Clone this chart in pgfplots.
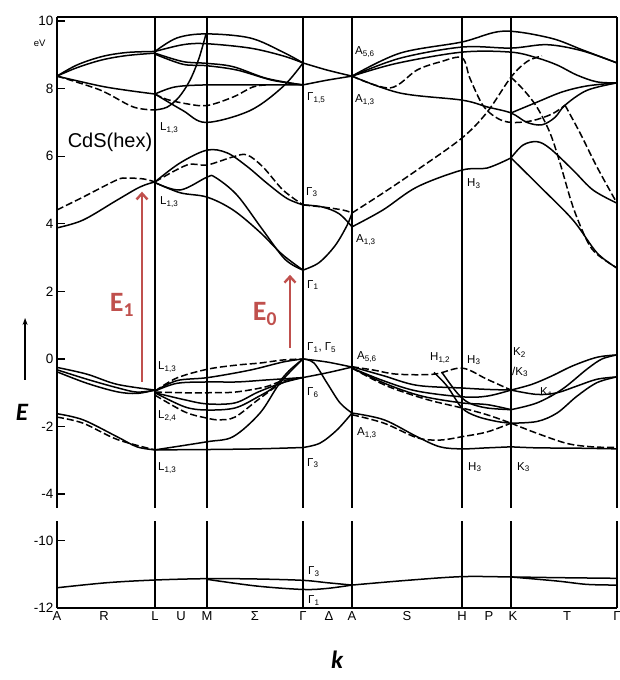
\documentclass[border=0pt]{standalone}
\usepackage{fontspec}
\setmainfont{Liberation Sans}
\newfontfamily\calfont{Carlito}
\usepackage{pgfplots}
\pgfplotsset{compat=1.18}
\usetikzlibrary{arrows.meta}
\definecolor{redarrow}{RGB}{192,80,77}
\tikzset{lab/.style={font=\fontsize{11.5}{13}\selectfont, anchor=west, inner sep=0pt}}
\pgfplotsset{
 band/.style={black, line width=1.5pt, smooth, tension=0.55, mark=none},
 bandd/.style={band, dash pattern=on 7pt off 3pt},
 panel/.style={scale only axis, width=560pt, xmin=0, xmax=560,
   axis line style={line width=1.5pt, black},
   xtick={0,98,150,246,295,405,454,560}, xticklabels={},
   xmajorgrids, grid style={black, line width=1.4pt},
   every x tick/.style={draw=none},
   every y tick/.style={black, line width=1.3pt},
   major tick length=8pt, tick align=inside,
   yticklabel style={font=\fontsize{13.5}{15}\selectfont},
   xticklabel style={font=\fontsize{13}{15}\selectfont},
   clip=false},
}
\begin{document}
\begin{tikzpicture}
\path[use as bounding box] (0pt,0pt) rectangle (620pt,680pt);
% ---------------- upper panel ----------------
\begin{axis}[panel, at={(57pt,172pt)}, anchor=south west, height=491pt,
  ymin=-4.41, ymax=10.12, axis x line*=top, axis y line*=left,
  ytick={-4,-2,0,2,4,6,8,10}, yticklabels={-4,-2,0,2,4,6,8,10}]
% upper conduction, A-L
\addplot[band] coordinates {(0,8.37)(20,8.7)(45,8.95)(70,9.07)(98,9.1)};
\addplot[band] coordinates {(0,8.37)(20,8.62)(45,8.85)(70,8.98)(98,9.05)};
\addplot[band] coordinates {(0,8.37)(43,8.08)(70,7.95)(98,7.84)};
\addplot[bandd] coordinates {(0,8.37)(43,7.96)(76,7.46)(98,7.37)};
% upper conduction, L-M-Gamma
\addplot[band] coordinates {(98,9.1)(120,9.5)(149,9.62)(193,9.5)(226,9.08)(246,8.76)};
\addplot[band] coordinates {(98,9.1)(126,9.3)(149,9.33)(193,9.2)(226,8.97)(246,8.76)};
\addplot[band] coordinates {(98,9.05)(126,8.8)(149,8.75)(176,8.65)(210,8.3)(246,8.11)};
\addplot[band] coordinates {(98,9.02)(126,8.72)(149,8.68)(180,8.55)(215,8.25)(246,8.11)};
\addplot[band] coordinates {(98,7.84)(118,8.05)(149,8.11)(200,8.11)(246,8.11)};
\addplot[band] coordinates {(98,7.37)(110,7.45)(122,7.75)(133,8.25)(142,8.9)(149,9.62)};
\addplot[band] coordinates {(98,7.84)(126,7.35)(149,7.0)(193,7.35)(226,8.06)(246,8.76)};
\addplot[bandd] coordinates {(98,7.84)(110,7.68)(130,7.55)(150,7.5)(176,7.75)(196,8.05)(210,8.11)};
% upper conduction, Gamma-A
\addplot[band] coordinates {(246,8.76)(270,8.55)(295,8.37)};
\addplot[band] coordinates {(246,8.11)(270,8.25)(295,8.37)};
% upper conduction, A-H-K-Gamma
\addplot[band] coordinates {(295,8.37)(343,9.05)(405,9.38)(446,9.7)(493,9.5)(526,9.14)(560,8.76)};
\addplot[band] coordinates {(295,8.37)(343,8.9)(405,9.23)(454,9.2)(490,9.3)(525,9.12)(560,8.76)};
\addplot[band] coordinates {(295,8.37)(340,8.75)(405,9.08)(454,9.08)(480,8.91)(500,8.7)(520,8.4)(540,8.2)(560,8.17)};
\addplot[bandd] coordinates {(295,8.37)(333,8.02)(360,8.55)(383,8.79)(405,8.91)(413,8.3)(426,7.5)(440,7.13)(454,7.0)(475,7.05)(495,7.25)(508,7.51)};
\addplot[bandd] coordinates {(508,7.51)(523,6.69)(540,5.68)(560,4.61)};
\addplot[band] coordinates {(295,8.37)(343,7.87)(405,7.66)(430,7.46)(454,7.28)(470,7.0)(485,6.93)(498,7.15)(508,7.51)(530,7.95)(560,8.17)};
\addplot[band] coordinates {(454,7.28)(480,7.6)(505,7.9)(530,8.08)(560,8.17)};
\addplot[bandd] coordinates {(295,4.32)(326,4.91)(360,5.59)(405,6.54)(430,7.3)(454,8.34)(470,8.8)(485,8.97)};
\addplot[bandd] coordinates {(454,8.34)(467,7.95)(480,7.45)(493,6.69)(503,5.8)(516,4.5)(530,3.5)(540,3.1)(560,2.69)};
% lower conduction
\addplot[bandd] coordinates {(0,4.41)(26,4.79)(60,5.30)(70,5.35)(86,5.33)(98,5.24)};
\addplot[band] coordinates {(0,3.88)(26,4.11)(60,4.70)(83,5.09)(98,5.24)};
\addplot[band] coordinates {(98,5.24)(123,5.80)(150,6.18)(170,6.1)(190,5.7)(210,5.2)(230,4.75)(246,4.56)};
\addplot[bandd] coordinates {(98,5.24)(130,5.74)(150,5.74)(176,5.98)(190,6.04)(206,5.68)(226,5.0)(246,4.56)};
\addplot[band] coordinates {(98,5.22)(123,5.0)(150,5.38)(158,5.38)(180,4.85)(205,3.85)(228,2.95)(246,2.63)};
\addplot[band] coordinates {(98,5.22)(123,4.92)(150,4.79)(176,4.41)(203,3.75)(225,3.1)(246,2.63)};
\addplot[band] coordinates {(246,4.56)(265,4.5)(282,4.3)(295,3.91)};
\addplot[bandd] coordinates {(246,4.56)(270,4.48)(287,4.4)(295,4.32)};
\addplot[band] coordinates {(246,2.63)(262,2.85)(278,3.35)(290,3.95)(295,4.32)};
\addplot[band] coordinates {(295,3.91)(326,4.41)(360,5.09)(405,5.59)(430,5.65)(454,5.95)};
\addplot[band] coordinates {(454,5.95)(466,6.33)(480,6.43)(493,6.23)(516,5.59)(536,5.0)(560,4.61)};
\addplot[band] coordinates {(454,5.95)(483,5.10)(516,4.11)(540,3.14)(560,2.69)};
% valence, A-L
\addplot[band] coordinates {(0,-0.25)(30,-0.45)(60,-0.75)(98,-0.92)};
\addplot[band] coordinates {(0,-0.32)(30,-0.6)(60,-0.85)(80,-0.98)(98,-0.92)};
\addplot[band] coordinates {(0,-0.38)(30,-0.72)(60,-0.97)(80,-1.02)(98,-0.92)};
\addplot[band] coordinates {(0,-1.62)(26,-1.8)(60,-2.3)(80,-2.6)(98,-2.69)};
\addplot[bandd] coordinates {(0,-1.72)(26,-1.9)(60,-2.38)(98,-2.69)};
% valence, L-M-Gamma
\addplot[bandd] coordinates {(98,-0.95)(120,-0.56)(151,-0.30)(180,-0.18)(203,-0.12)(226,-0.03)(246,0)};
\addplot[band] coordinates {(98,-0.95)(120,-0.64)(151,-0.55)(193,-0.33)(226,-0.09)(246,0)};
\addplot[band] coordinates {(98,-0.95)(120,-0.72)(151,-0.68)(180,-0.68)(210,-0.62)(246,-0.55)};
\addplot[bandd] coordinates {(98,-0.98)(128,-1.0)(150,-1.0)(178,-0.98)(208,-0.83)(225,-0.65)(246,-0.55)};
\addplot[band] coordinates {(98,-1.0)(128,-1.21)(150,-1.33)(178,-1.3)(201,-0.98)(225,-0.71)(246,-0.55)};
\addplot[band] coordinates {(98,-1.0)(128,-1.42)(150,-1.51)(178,-1.45)(201,-1.12)(217,-0.83)(232,-0.35)(246,0)};
\addplot[bandd] coordinates {(98,-1.07)(128,-1.57)(150,-1.75)(162,-1.8)(178,-1.72)(201,-1.21)(225,-0.71)(246,-0.55)};
\addplot[band] coordinates {(98,-2.69)(150,-2.45)(176,-2.3)(203,-1.6)(223,-0.71)(246,0)};
\addplot[band] coordinates {(98,-2.69)(150,-2.68)(200,-2.66)(246,-2.62)};
% valence, Gamma-A
\addplot[band] coordinates {(246,0)(270,-0.09)(295,-0.24)};
\addplot[band] coordinates {(246,0)(257,-0.12)(270,-0.71)(283,-1.3)(295,-1.6)};
\addplot[band] coordinates {(246,-0.55)(270,-0.41)(295,-0.24)};
\addplot[band] coordinates {(246,-2.62)(263,-2.49)(280,-2.1)(295,-1.6)};
% valence, A-H-K
\addplot[bandd] coordinates {(295,-0.23)(317,-0.33)(340,-0.45)(377,-0.45)(405,-0.27)(430,-0.6)(454,-0.92)};
\addplot[band] coordinates {(295,-0.23)(327,-0.5)(360,-0.78)(405,-0.86)(430,-0.9)(454,-0.92)};
\addplot[band] coordinates {(295,-0.27)(327,-0.65)(360,-0.95)(405,-1.12)(430,-1.1)(454,-0.92)};
\addplot[band] coordinates {(295,-0.27)(330,-0.75)(365,-1.1)(405,-1.3)(430,-1.35)(454,-1.5)};
\addplot[bandd] coordinates {(295,-0.27)(330,-0.8)(370,-1.2)(405,-1.45)(430,-1.65)(454,-1.9)};
\addplot[band] coordinates {(377,-0.4)(390,-0.8)(405,-1.45)(420,-1.7)(440,-1.85)(454,-1.9)};
\addplot[band] coordinates {(385,-0.4)(400,-1.0)(412,-1.3)(430,-1.45)(454,-1.5)};
\addplot[band] coordinates {(295,-1.6)(327,-1.8)(360,-2.3)(383,-2.6)(405,-2.66)(430,-2.63)(454,-2.6)};
\addplot[bandd] coordinates {(295,-1.65)(327,-1.9)(360,-2.33)(383,-2.4)(405,-2.3)(430,-2.16)(454,-1.9)};
% valence, K-Gamma
\addplot[band] coordinates {(454,-0.92)(475,-0.75)(495,-0.5)(516,-0.2)(540,0.05)(560,0.12)};
\addplot[band] coordinates {(454,-0.92)(480,-1.05)(500,-1.0)(520,-0.8)(540,-0.6)(560,-0.53)};
\addplot[band] coordinates {(454,-1.5)(480,-1.3)(505,-0.9)(530,-0.3)(545,0.0)(560,0.12)};
\addplot[bandd] coordinates {(454,-1.9)(480,-2.2)(510,-2.5)(535,-2.6)(560,-2.62)};
\addplot[band] coordinates {(454,-1.9)(480,-1.85)(500,-1.6)(520,-1.1)(540,-0.7)(560,-0.53)};
\addplot[band] coordinates {(454,-2.6)(480,-2.63)(520,-2.64)(560,-2.66)};
% red transitions
\draw[redarrow, line width=2.4pt, -{Straight Barb[length=6pt,width=11pt]}] (axis cs:85,-0.68) -- (axis cs:85,4.95);
\draw[redarrow, line width=2.4pt, -{Straight Barb[length=6pt,width=11pt]}] (axis cs:233,0.33) -- (axis cs:233,2.49);
\node[text=redarrow, font=\calfont\fontsize{28}{30}\selectfont\bfseries] at (axis cs:65,1.6) {E\textsubscript{1}};
\node[text=redarrow, font=\calfont\fontsize{28}{30}\selectfont\bfseries] at (axis cs:208,1.33) {E\textsubscript{0}};
% labels
\node[font=\fontsize{20}{22}\selectfont] at (axis cs:53,6.42) {CdS(hex)};
\node[font=\fontsize{9.5}{10}\selectfont, anchor=east] at (axis cs:-8,9.35) {eV};
\node[lab] at (axis cs:103,6.83) {L\textsubscript{1,3}};
\node[lab] at (axis cs:103,4.65) {L\textsubscript{1,3}};
\node[lab] at (axis cs:250,7.72) {Γ\textsubscript{1,5}};
\node[lab] at (axis cs:249,4.94) {Γ\textsubscript{3}};
\node[lab] at (axis cs:250,2.19) {Γ\textsubscript{1}};
\node[lab] at (axis cs:298,9.08) {A\textsubscript{5,6}};
\node[lab] at (axis cs:298,7.66) {A\textsubscript{1,3}};
\node[lab] at (axis cs:299,3.52) {A\textsubscript{1,3}};
\node[lab] at (axis cs:410,5.2) {H\textsubscript{3}};
\node[lab] at (axis cs:101,-0.24) {L\textsubscript{1,3}};
\node[lab] at (axis cs:101,-1.7) {L\textsubscript{2,4}};
\node[lab] at (axis cs:101,-3.23) {L\textsubscript{1,3}};
\node[lab] at (axis cs:250,0.33) {Γ\textsubscript{1}, Γ\textsubscript{5}};
\node[lab] at (axis cs:250,-1.0) {Γ\textsubscript{6}};
\node[lab] at (axis cs:250,-3.08) {Γ\textsubscript{3}};
\node[lab] at (axis cs:300,0.06) {A\textsubscript{5,6}};
\node[lab] at (axis cs:300,-2.19) {A\textsubscript{1,3}};
\node[lab] at (axis cs:373,0.03) {H\textsubscript{1,2}};
\node[lab] at (axis cs:410,-0.03) {H\textsubscript{3}};
\node[lab] at (axis cs:411,-3.2) {H\textsubscript{3}};
\node[lab] at (axis cs:456,0.2) {K\textsubscript{2}};
\node[lab] at (axis cs:455,-0.38) {/K\textsubscript{3}};
\node[lab] at (axis cs:483,-1.0) {K\textsubscript{1}};
\node[lab] at (axis cs:460,-3.2) {K\textsubscript{3}};
% E axis label and arrow
\draw[black, line width=1.3pt, -{Stealth[length=7pt,width=5pt]}] (axis description cs:-0.057,0.261) -- (axis description cs:-0.057,0.387);
\node[font=\calfont\fontsize{25}{27}\selectfont\bfseries\itshape] at (axis description cs:-0.0625,0.195) {E};
\end{axis}
% ---------------- lower panel ----------------
\begin{axis}[panel, at={(57pt,72pt)}, anchor=south west, height=87pt,
  ymin=-12, ymax=-9.42, axis x line*=bottom, axis y line*=left,
  ytick={-12,-10}, yticklabels={-12,-10},
  extra x ticks={0,47,98,124,150,198,246,272,295,350,405,432,456,510,560},
  extra x tick labels={A,R,L,U,M,Σ,Γ,Δ,A,S,H,P,K,T,Γ},
  extra x tick style={grid=none},
  xlabel={\calfont\fontsize{25}{27}\selectfont\bfseries\itshape k},
  xlabel style={at={(axis description cs:0.5,-0.6)}, anchor=center}]
\addplot[band] coordinates {(0,-11.40)(50,-11.25)(98,-11.17)(150,-11.13)(200,-11.14)(246,-11.18)(270,-11.25)(295,-11.32)};
\addplot[band] coordinates {(150,-11.15)(200,-11.35)(246,-11.45)(270,-11.42)(295,-11.32)};
\addplot[band] coordinates {(295,-11.32)(350,-11.18)(405,-11.07)(454,-11.08)(500,-11.1)(560,-11.12)};
\addplot[band] coordinates {(454,-11.08)(500,-11.2)(530,-11.3)(560,-11.32)};
\node[lab] at (axis cs:251,-10.93) {Γ\textsubscript{3}};
\node[lab] at (axis cs:251,-11.77) {Γ\textsubscript{1}};
\end{axis}
\end{tikzpicture}
\end{document}
